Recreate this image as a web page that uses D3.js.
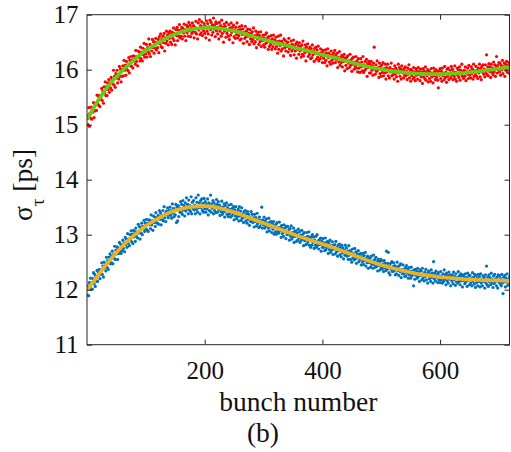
<!DOCTYPE html>
<html>
<head>
<meta charset="utf-8">
<script src="https://cdn.jsdelivr.net/npm/d3@7/dist/d3.min.js"></script>
<style>
  html, body { margin: 0; padding: 0; background: #fff; }
  svg { display: block; }
  text { font-family: "Liberation Serif", "Times New Roman", serif; fill: #111; }
</style>
</head>
<body>
<svg id="chart" width="511" height="452"></svg>
<script>
// Bunch-by-bunch measured bunch length, two fills (ps)
const upperSigma = [
15.16,15.00,15.31,14.97,15.21,15.12,15.32,15.10,15.28,15.23,15.40,15.13,15.39,15.25,15.37,15.26,15.54,15.39,15.52,15.35,
15.53,15.33,15.52,15.46,15.66,15.44,15.61,15.39,15.69,15.58,15.78,15.53,15.69,15.53,15.76,15.64,15.82,15.59,15.76,15.67,
15.86,15.63,15.81,15.74,15.99,15.72,15.88,15.68,15.93,15.85,15.99,15.76,15.90,15.83,16.06,15.88,16.01,15.78,16.00,15.88,
16.07,15.89,16.17,15.99,16.08,15.90,16.15,16.00,16.09,15.98,16.22,15.94,16.17,16.07,16.24,16.06,16.18,16.03,16.25,16.16,
16.24,16.10,16.35,16.15,16.24,16.07,16.34,16.22,16.32,16.16,16.41,16.20,16.32,16.16,16.39,16.27,16.48,16.23,16.36,16.29,
16.46,16.23,16.40,16.33,16.56,16.29,16.46,16.24,16.41,16.34,16.55,16.40,16.51,16.30,16.50,16.39,16.57,16.36,16.49,16.40,
16.55,16.31,16.60,16.47,16.65,16.42,16.55,16.40,16.61,16.49,16.66,16.34,16.58,16.48,16.70,16.52,16.63,16.45,16.67,16.57,
16.70,16.50,16.64,16.46,16.68,16.57,16.76,16.53,16.66,16.45,16.73,16.62,16.77,16.53,16.72,16.61,16.82,16.58,16.72,16.61,
16.77,16.56,16.75,16.67,16.83,16.61,16.73,16.53,16.81,16.67,16.78,16.61,16.86,16.71,16.81,16.60,16.76,16.66,16.85,16.69,
16.80,16.58,16.77,16.68,16.88,16.65,16.75,16.56,16.85,16.72,16.91,16.64,16.80,16.67,16.87,16.62,16.78,16.71,16.84,16.66,
16.79,16.58,16.89,16.70,16.84,16.65,16.78,16.54,16.90,16.73,16.86,16.63,16.81,16.68,16.94,16.74,16.82,16.60,16.87,16.71,
16.84,16.65,16.77,16.56,16.86,16.70,16.80,16.61,16.90,16.66,16.77,16.50,16.83,16.70,16.79,16.59,16.86,16.66,16.72,16.61,
16.82,16.55,16.76,16.63,16.85,16.68,16.77,16.49,16.81,16.60,16.72,16.57,16.77,16.64,16.85,16.58,16.72,16.62,16.78,16.54,
16.73,16.56,16.80,16.64,16.74,16.48,16.68,16.57,16.79,16.60,16.70,16.51,16.74,16.61,16.66,16.46,16.73,16.56,16.66,16.51,
16.69,16.55,16.76,16.47,16.62,16.51,16.70,16.40,16.64,16.56,16.68,16.46,16.62,16.51,16.69,16.42,16.58,16.53,16.63,16.45,
16.58,16.41,16.64,16.48,16.67,16.50,16.58,16.37,16.60,16.42,16.54,16.46,16.62,16.37,16.56,16.42,16.63,16.48,16.54,16.38,
16.59,16.42,16.51,16.30,16.61,16.37,16.52,16.44,16.63,16.34,16.52,16.38,16.48,16.25,16.56,16.40,16.53,16.34,16.47,16.42,
16.50,16.32,16.57,16.38,16.44,16.26,16.52,16.34,16.46,16.38,16.54,16.27,16.43,16.34,16.47,16.21,16.50,16.37,16.44,16.28,
16.49,16.34,16.42,16.23,16.45,16.28,16.52,16.25,16.38,16.31,16.45,16.16,16.41,16.33,16.47,16.24,16.37,16.28,16.41,16.20,
16.38,16.22,16.45,16.27,16.34,16.15,16.39,16.29,16.41,16.19,16.36,16.23,16.43,16.16,16.30,16.20,16.38,16.25,16.32,16.13,
16.35,16.21,16.29,16.13,16.36,16.17,16.30,16.07,16.38,16.22,16.30,16.14,16.26,16.10,16.34,16.17,16.26,16.12,16.30,16.20,
16.35,16.13,16.26,16.18,16.30,16.04,16.22,16.14,16.33,16.08,16.22,16.13,16.26,16.05,16.23,16.15,16.28,15.98,16.21,16.08,
16.22,16.02,16.25,16.12,16.16,16.04,16.28,16.08,16.18,15.97,16.21,16.10,16.23,16.01,16.14,16.06,16.24,16.03,16.16,15.96,
16.20,16.03,16.12,15.95,16.20,16.05,16.14,15.98,16.24,15.95,16.09,15.99,16.15,16.02,16.19,15.88,16.11,16.04,16.15,15.94,
16.10,15.94,16.15,15.99,16.07,15.90,16.12,16.41,16.01,15.92,16.09,15.97,16.16,15.99,16.04,15.86,16.12,15.93,16.06,15.88,
16.09,15.95,16.13,15.89,16.02,15.94,16.10,15.83,16.04,15.96,16.10,15.89,16.01,15.85,16.04,15.96,16.12,15.89,16.00,15.91,
16.00,15.83,16.07,15.92,16.03,15.87,15.99,15.79,16.10,15.94,16.04,15.88,16.01,15.83,16.07,15.94,15.99,15.85,16.02,15.90,
16.05,15.89,15.97,15.82,16.03,15.92,16.09,15.85,16.00,15.79,16.00,15.89,15.97,15.83,16.04,15.86,15.96,15.80,16.02,15.90,
15.98,15.83,16.04,15.91,15.96,15.80,16.01,15.87,15.95,15.75,16.02,15.87,15.98,15.84,16.05,15.81,15.95,15.89,16.00,15.78,
15.98,15.84,15.95,15.79,16.02,15.87,15.94,15.76,16.03,15.89,15.97,15.82,16.00,15.86,15.95,15.81,15.67,15.98,15.90,16.02,
15.84,15.97,15.79,16.03,15.89,15.94,15.82,16.06,15.86,15.95,15.77,16.01,15.88,16.03,15.82,15.93,15.99,15.85,16.06,15.90,
16.01,15.82,15.96,15.88,16.07,15.83,15.95,15.79,16.03,15.90,16.00,15.86,16.05,15.81,15.99,15.92,16.10,15.88,15.97,15.84,
15.99,15.88,16.05,15.80,15.96,15.92,16.03,15.84,16.08,15.90,15.98,15.85,16.05,15.93,16.01,15.83,16.10,15.88,15.98,15.91,
16.06,15.88,15.99,15.84,16.03,15.94,16.10,15.87,16.02,15.82,16.06,15.96,16.09,15.92,16.01,15.87,16.09,15.94,16.27,15.91,
16.05,15.89,16.11,15.97,16.05,15.86,16.10,15.95,16.03,15.91,16.14,15.96,16.09,15.88,16.05,16.24,15.94,16.08,16.00,16.13,
15.96,16.12,15.90,16.08,16.00,16.17,15.93,16.05,16.12,15.88,16.10,15.99,16.15,15.96,16.08,15.94,16.13,16.02
];

const lowerSigma = [
11.90,12.07,11.89,12.13,12.03,12.21,12.01,12.13,12.01,12.20,12.31,12.11,12.28,12.06,12.24,12.16,12.35,12.15,12.32,12.26,
12.37,12.20,12.35,12.28,12.49,12.28,12.43,12.23,12.50,12.39,12.45,12.34,12.59,12.41,12.53,12.37,12.59,12.50,12.65,12.47,
12.61,12.49,12.70,12.47,12.64,12.57,12.79,12.55,12.72,12.65,12.78,12.55,12.76,12.66,12.86,12.71,12.83,12.66,12.80,12.71,
12.90,12.75,12.85,12.69,12.95,12.82,12.92,12.77,13.02,12.84,12.92,12.80,13.00,12.91,13.07,12.87,13.01,12.84,13.08,12.96,
13.06,12.88,13.12,12.97,13.05,12.94,13.19,13.03,13.15,12.92,13.13,13.03,13.21,13.00,13.15,13.11,13.26,13.06,13.21,13.11,
13.28,13.09,13.21,13.06,13.27,13.18,13.26,13.11,13.36,13.18,13.25,13.08,13.34,13.22,13.32,13.15,13.40,13.22,13.31,13.21,
13.35,13.19,13.44,13.28,13.40,13.18,13.35,13.27,13.44,13.25,13.51,13.31,13.39,13.24,13.43,13.36,13.49,13.31,13.44,13.37,
13.50,13.35,13.44,13.30,13.56,13.39,13.48,13.33,13.45,13.36,13.55,13.22,13.50,13.25,13.53,13.33,13.49,13.41,13.60,13.41,
13.55,13.37,13.62,13.45,13.53,13.34,13.58,13.43,13.67,13.47,13.55,13.38,13.63,13.45,13.53,13.42,13.69,13.38,13.59,13.48,
13.62,13.45,13.54,13.38,13.67,13.46,13.59,13.41,13.72,13.49,13.58,13.38,13.62,13.49,13.65,13.44,13.57,13.41,13.66,13.47,
13.60,13.41,13.55,13.47,13.65,13.36,13.58,13.44,13.54,13.72,13.41,13.56,13.48,13.62,13.38,13.58,13.44,13.53,13.40,13.64,
13.55,13.41,13.60,13.46,13.54,13.35,13.50,13.42,13.61,13.37,13.50,13.41,13.56,13.32,13.53,13.43,13.58,13.37,13.49,13.33,
13.54,13.38,13.46,13.32,13.55,13.34,13.48,13.38,13.51,13.27,13.45,13.34,13.51,13.29,13.41,13.33,13.46,13.25,13.51,13.34,
13.43,13.26,13.49,13.30,13.38,13.22,13.42,13.32,13.44,13.25,13.38,13.21,13.42,13.28,13.37,13.17,13.32,13.24,13.42,13.24,
13.37,13.22,13.31,13.14,13.37,13.24,13.31,13.16,13.39,13.20,13.27,13.13,13.32,13.15,13.26,13.21,13.50,13.12,13.27,13.18,
13.32,13.12,13.25,13.16,13.29,13.05,13.21,13.12,13.30,13.07,13.23,13.14,13.24,13.04,13.20,13.10,13.24,13.01,13.16,13.05,
13.19,13.01,13.22,13.06,13.13,13.03,13.23,13.07,13.14,12.95,13.17,13.02,13.11,12.97,13.18,13.05,13.12,12.93,13.15,13.00,
13.15,13.01,13.09,12.90,13.11,12.97,13.16,12.92,13.04,12.96,13.12,12.86,13.06,12.97,13.07,12.88,13.03,12.90,13.10,12.94,
13.05,12.86,12.99,12.90,13.08,12.92,13.01,12.80,13.04,12.89,12.95,12.82,13.04,12.84,12.97,12.88,13.05,12.81,12.96,12.77,
12.95,12.81,13.00,12.86,12.96,12.75,12.90,12.81,12.97,12.77,13.00,12.81,12.89,12.74,12.91,12.82,12.94,12.70,12.88,12.77,
12.93,12.77,12.85,12.71,12.94,12.73,12.86,12.77,12.88,12.66,12.85,12.73,12.90,12.68,12.80,12.72,12.87,12.64,12.81,12.74,
12.82,12.65,12.88,12.69,12.77,12.61,12.81,12.71,12.83,12.64,12.77,12.60,12.81,12.67,12.76,12.56,12.72,12.63,12.81,12.63,
12.76,12.61,12.70,12.55,12.80,12.63,12.71,12.55,12.69,12.50,12.74,12.58,12.65,12.54,12.75,12.56,12.69,12.48,12.65,12.58,
12.71,12.51,12.64,12.55,12.66,12.45,12.60,12.51,12.66,12.46,12.62,12.53,12.68,12.43,12.57,12.49,12.61,12.39,12.58,12.49,
12.57,12.41,12.61,12.46,12.52,12.39,12.63,12.46,12.55,12.41,12.59,12.42,12.51,12.34,12.55,12.44,12.51,12.36,12.55,12.40,
12.53,12.38,12.47,12.33,12.53,12.40,12.48,12.35,12.70,12.37,12.48,12.68,12.31,12.43,12.27,12.48,12.37,12.51,12.33,12.42,
12.49,12.34,12.44,12.27,12.41,12.29,12.50,12.35,12.42,12.26,12.44,12.33,12.47,12.22,12.37,12.29,12.45,12.29,12.37,12.24,
12.40,12.25,12.44,12.30,12.38,12.21,12.40,12.27,12.34,12.21,12.41,12.25,12.34,12.28,12.07,12.36,12.19,12.37,12.26,12.34,
12.21,12.39,12.24,12.32,12.15,12.36,12.26,12.34,12.18,12.39,12.21,12.29,12.16,12.32,12.24,12.37,12.18,12.29,12.12,12.32,
12.34,12.20,12.29,12.15,12.36,12.22,12.30,12.12,12.51,12.20,12.30,12.16,12.34,12.22,12.27,12.13,12.31,12.18,12.25,12.13,
12.33,12.18,12.25,12.12,12.29,12.15,12.36,12.19,12.27,12.09,12.30,12.16,12.25,12.12,12.32,12.19,12.27,12.07,12.26,12.16,
12.27,12.11,12.32,12.18,12.24,12.08,12.29,12.14,12.22,12.12,12.33,12.15,12.25,12.09,12.29,12.16,12.25,12.05,12.27,12.17,
12.24,12.11,12.29,12.14,12.22,12.06,12.30,12.17,12.25,12.09,12.26,12.12,12.20,12.07,12.31,12.15,12.23,12.10,12.28,12.04,
12.26,12.13,12.21,12.07,12.28,12.15,12.24,12.05,12.29,12.12,12.19,12.07,12.25,12.15,12.22,12.03,12.27,12.12,12.43,12.09,
12.23,12.06,12.27,12.14,12.22,12.09,12.30,12.12,12.19,12.04,12.25,12.11,12.28,12.15,12.20,12.07,12.23,12.03,12.27,12.14,
12.25,12.11,12.20,12.07,12.28,12.12,11.93,12.23,12.14,12.26,12.05,12.21,12.14,12.29,12.08,12.19,12.10,12.24
];

// Smooth fits through the two fills
const fitBunch = [0,20,40,60,80,100,120,140,160,180,200,220,240,260,280,300,320,340,360,380,400,420,440,460,480,500,520,540,560,580,600,620,640,660,680,700,718];
const upperFit = [15.09,15.46,15.75,15.98,16.18,16.35,16.48,16.60,16.69,16.74,16.76,16.76,16.72,16.68,16.61,16.55,16.49,16.44,16.38,16.33,16.27,16.22,16.16,16.10,16.05,16.01,15.97,15.95,15.93,15.92,15.92,15.93,15.94,15.96,15.99,16.02,16.05];
const lowerFit = [11.99,12.28,12.55,12.79,12.99,13.16,13.29,13.40,13.47,13.51,13.52,13.50,13.44,13.37,13.29,13.21,13.13,13.05,12.97,12.90,12.83,12.76,12.68,12.60,12.52,12.45,12.39,12.34,12.29,12.26,12.23,12.21,12.19,12.18,12.17,12.17,12.16];

const xTicks = [200, 400, 600];
const yTicks = [11, 12, 13, 14, 15, 16, 17];
const xTitle = "bunch number";
const panelTag = "(b)";

const svg = d3.select("#chart");
const L = 87, R = 509.5, T = 14.7, B = 344.7;

const x = d3.scaleLinear().domain([0, 718]).range([L, R]);
const y = d3.scaleLinear().domain([11, 17]).range([B, T]);

svg.append("defs").append("clipPath").attr("id", "plotclip")
  .append("rect").attr("x", L).attr("y", T).attr("width", R - L).attr("height", B - T);

const plot = svg.append("g").attr("clip-path", "url(#plotclip)");

function scatter(values, color) {
  plot.append("g").selectAll("circle")
    .data(values)
    .join("circle")
    .attr("cx", (d, i) => x(i + 1))
    .attr("cy", d => y(d))
    .attr("r", 1.6)
    .attr("fill", color);
}

function fitLine(values, color) {
  const line = d3.line()
    .x((d, i) => x(fitBunch[i]))
    .y(d => y(d))
    .curve(d3.curveCatmullRom.alpha(0.5));
  plot.append("path")
    .datum(values)
    .attr("d", line)
    .attr("fill", "none")
    .attr("stroke", color)
    .attr("stroke-width", 3.6)
    .attr("stroke-linejoin", "round");
}

scatter(upperSigma, "#ff0000");
fitLine(upperFit, "#66cc11");
scatter(lowerSigma, "#0072bd");
fitLine(lowerFit, "#edb120");

// Axes with inward ticks on all four sides
const axisColor = "#262626";
const tickFont = 25;
const labelFont = 27.5;

const gx = svg.append("g").attr("transform", `translate(0,${B})`)
  .call(d3.axisBottom(x).tickValues(xTicks).tickSizeInner(-5).tickSizeOuter(0).tickFormat(d3.format("d")));
gx.selectAll("text").attr("y", 34.5).attr("dy", null).style("font-size", tickFont + "px");

const gxt = svg.append("g").attr("transform", `translate(0,${T})`)
  .call(d3.axisTop(x).tickValues(xTicks).tickSizeInner(-5).tickSizeOuter(0).tickFormat(""));

const gy = svg.append("g").attr("transform", `translate(${L},0)`)
  .call(d3.axisLeft(y).tickValues(yTicks).tickSizeInner(-5).tickSizeOuter(0).tickFormat(d3.format("d")));
gy.selectAll("text").attr("x", -8.5).style("font-size", tickFont + "px");

const gyr = svg.append("g").attr("transform", `translate(${R},0)`)
  .call(d3.axisRight(y).tickValues(yTicks).tickSizeInner(-5).tickSizeOuter(0).tickFormat(""));

[gx, gxt, gy, gyr].forEach(g => {
  g.select(".domain").remove();
  g.selectAll("line").attr("stroke", axisColor).attr("stroke-width", 1);
  g.selectAll("text").attr("fill", "#111").style("font-family", '"Liberation Serif", "Times New Roman", serif');
});

svg.append("rect")
  .attr("x", L).attr("y", T).attr("width", R - L).attr("height", B - T)
  .attr("fill", "none").attr("stroke", axisColor).attr("stroke-width", 1);

// Axis titles
svg.append("text")
  .attr("x", (L + R) / 2).attr("y", 411)
  .attr("text-anchor", "middle")
  .style("font-size", labelFont + "px")
  .text(xTitle);

svg.append("text")
  .attr("x", 263).attr("y", 442)
  .attr("text-anchor", "middle")
  .style("font-size", labelFont + "px")
  .text(panelTag);

const yl = svg.append("text")
  .attr("transform", "translate(32,185) rotate(-90)")
  .attr("text-anchor", "middle")
  .style("font-size", labelFont + "px");
yl.append("tspan").text("σ");
yl.append("tspan").attr("dy", 12).style("font-size", "19px").text("τ");
yl.append("tspan").attr("dy", -12).text(" [ps]");
</script>
</body>
</html>
